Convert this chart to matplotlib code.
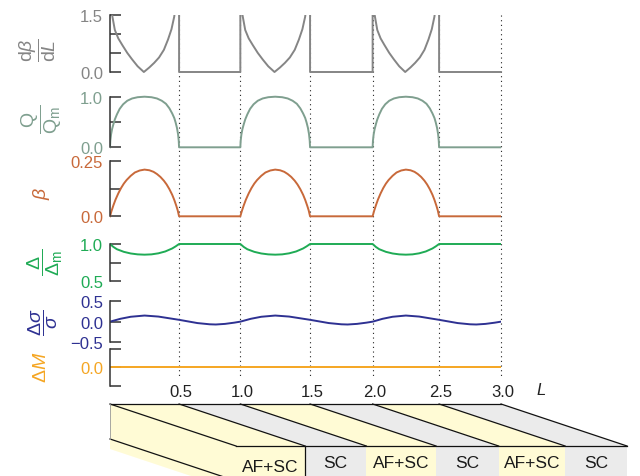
import matplotlib
matplotlib.use("Agg")
import matplotlib.pyplot as plt
import numpy as np
from matplotlib.patches import Polygon

plt.rcParams['font.family'] = ['Liberation Sans', 'DejaVu Sans']
plt.rcParams['mathtext.fontset'] = 'custom'
plt.rcParams['mathtext.rm'] = 'Liberation Sans'
plt.rcParams['mathtext.it'] = 'Liberation Sans:italic'
plt.rcParams['mathtext.bf'] = 'Liberation Sans:bold'

# ---------------- data ----------------
# phase boundaries along L (as drawn)
boundaries = [0.0, 0.53, 1.0, 1.535, 2.015, 2.525, 3.0]
phases = ["AF+SC", "SC", "AF+SC", "SC", "AF+SC", "SC"]
x_tick_labels = ["0.5", "1.0", "1.5", "2.0", "2.5", "3.0"]

# dbeta/dL inside an AF+SC region (fraction of region width -> value); 0 in SC
dbdl_frac = [0.0, 0.03, 0.07, 0.12, 0.18, 0.25, 0.32, 0.40, 0.49, 0.57, 0.64, 0.71, 0.78, 0.84, 0.89, 0.93, 0.96, 1.0]
dbdl_vals = [2.2, 1.5, 1.1, 0.88, 0.70, 0.50, 0.33, 0.15, 0.0, 0.12, 0.24, 0.38, 0.58, 0.85, 1.12, 1.45, 1.9, 2.5]
dbdl_sc = 0.0

# Q/Qm in AF+SC; 0 in SC
q_frac = [0.0, 0.005, 0.015, 0.03, 0.05, 0.07, 0.1, 0.14, 0.19, 0.25, 0.32, 0.4, 0.5, 0.6, 0.68, 0.75, 0.81, 0.86, 0.9, 0.93, 0.95, 0.97, 0.985, 0.995, 1.0]
q_vals = [0.0, 0.13, 0.25, 0.36, 0.46, 0.55, 0.65, 0.76, 0.85, 0.92, 0.965, 0.99, 1.0, 0.99, 0.965, 0.92, 0.86, 0.77, 0.67, 0.58, 0.49, 0.38, 0.26, 0.13, 0.0]
q_sc = 0.0

# beta in AF+SC; 0 in SC
beta_frac = [0.0, 0.02, 0.05, 0.08, 0.12, 0.16, 0.20, 0.24, 0.30, 0.36, 0.43, 0.5, 0.57, 0.63, 0.68, 0.73, 0.78, 0.82, 0.86, 0.9, 0.93, 0.96, 0.98, 1.0]
beta_vals = [0.0, 0.022, 0.05, 0.075, 0.103, 0.127, 0.147, 0.163, 0.182, 0.197, 0.206, 0.21, 0.207, 0.2, 0.19, 0.177, 0.16, 0.143, 0.122, 0.097, 0.074, 0.047, 0.027, 0.0]
beta_sc = 0.0

# Delta/Delta_m in AF+SC; 1 in SC
gap_frac = [0.0, 0.05, 0.1, 0.2, 0.3, 0.4, 0.5, 0.6, 0.7, 0.8, 0.9, 0.95, 1.0]
gap_vals = [1.0, 0.96, 0.93, 0.895, 0.873, 0.861, 0.857, 0.861, 0.875, 0.90, 0.94, 0.968, 1.0]
gap_sc = 1.0

# Delta sigma / sigma, in AF+SC and in SC regions
sig_af_frac = [0.0, 0.15, 0.3, 0.5, 0.7, 0.85, 1.0]
sig_af_vals = [0.0, 0.07, 0.12, 0.15, 0.125, 0.085, 0.045]
sig_sc_frac = [0.15, 0.3, 0.5, 0.6, 0.75, 0.9, 1.0]
sig_sc_vals = [0.005, -0.035, -0.065, -0.07, -0.055, -0.025, 0.0]

# Delta M
dm_vals = [0.0, 0.0]

# ---------------- styling ----------------
c_grey = '#858585'
c_q = '#7f9f8f'
c_beta = '#c8693a'
c_gap = '#1fab55'
c_sig = '#2e3192'
c_m = '#f5a623'
c_yel = '#fffbd5'
c_gry = '#ebebeb'

W, H = 640, 477
X0, X1 = 110, 501
PXL = (X1 - X0) / 3.0

fig = plt.figure(figsize=(6.4, 4.77), dpi=100)


def series(af_frac, af_vals, sc_frac=None, sc_vals=None, sc_const=None):
    xs, ys = [], []
    for i in range(len(boundaries) - 1):
        a, c = boundaries[i], boundaries[i + 1]
        if phases[i] == "AF+SC":
            for f, v in zip(af_frac, af_vals):
                xs.append(a + f * (c - a)); ys.append(v)
        else:
            if sc_frac is None:
                xs += [a, c]; ys += [sc_const, sc_const]
            else:
                for f, v in zip(sc_frac, sc_vals):
                    xs.append(a + f * (c - a)); ys.append(v)
    return np.array(xs), np.array(ys)


def add_panel(lo, hi, ylo_px, yhi_px, pad_lo, pad_hi, color, ticks, labels):
    s = (ylo_px - yhi_px) / (hi - lo)
    bot_px = ylo_px + pad_lo * s
    top_px = yhi_px - pad_hi * s
    ax = fig.add_axes([X0 / W, 1 - bot_px / H, (X1 - X0) / W, (bot_px - top_px) / H])
    ax.set_ylim(lo - pad_lo, hi + pad_hi)
    ax.set_xlim(0, 3)
    for sp in ['top', 'right', 'bottom']:
        ax.spines[sp].set_visible(False)
    ax.spines['left'].set_bounds(lo, hi)
    ax.spines['left'].set_color('#333333')
    ax.spines['left'].set_linewidth(1.1)
    ax.tick_params(axis='x', bottom=False, labelbottom=False)
    ax.tick_params(axis='y', direction='in', length=8, width=1.1, color='#333333',
                   pad=5, labelsize=12, labelcolor=color)
    ax.set_yticks(ticks)
    ax.set_yticklabels(labels)
    ax.patch.set_alpha(0)
    return ax

lw = 1.4
# panel 1
ax1 = add_panel(0, 1.5, 73, 15.7, 0.05, 0.0, c_grey, [0, 0.5, 1.0, 1.5], ["0.0", "", "", "1.5"])
x, y = series(dbdl_frac, dbdl_vals, sc_const=dbdl_sc)
ax1.plot(x, y, color=c_grey, lw=lw)
# panel 2
ax2 = add_panel(0, 1.0, 148.3, 97.7, 0.04, 0.04, c_q, [0, 0.5, 1.0], ["0.0", "", "1.0"])
x, y = series(q_frac, q_vals, sc_const=q_sc)
ax2.plot(x, y, color=c_q, lw=lw)
# panel 3
ax3 = add_panel(0, 0.25, 217.3, 161.7, 0.012, 0.01, c_beta, [0, 0.125, 0.25], ["0.0", "", "0.25"])
x, y = series(beta_frac, beta_vals, sc_const=beta_sc)
ax3.plot(x, y, color=c_beta, lw=lw)
# panel 4
ax4 = add_panel(0.5, 1.0, 282.3, 245, 0.02, 0.03, c_gap, [0.5, 0.75, 1.0], ["0.5", "", "1.0"])
x, y = series(gap_frac, gap_vals, sc_const=gap_sc)
ax4.plot(x, y, color=c_gap, lw=lw)
# panel 5
ax5 = add_panel(-0.5, 0.5, 343, 302.3, 0.03, 0.03, c_sig, [-0.5, 0, 0.5], ["\u22120.5", "0.0", "0.5"])
x, y = series(sig_af_frac, sig_af_vals, sig_sc_frac, sig_sc_vals)
ax5.plot(x, y, color=c_sig, lw=lw)
# panel 6
ax6 = add_panel(-1, 1, 386.5, 350, 0.05, 0.05, c_m, [-1, 0, 1], ["", "0.0", ""])
ax6.plot([boundaries[0], boundaries[-1]], dm_vals, color=c_m, lw=lw)

# y labels
ylabels = [
    (r'$\dfrac{\mathrm{d}\beta}{\mathrm{d}L}$', 38, 50, c_grey),
    (r'$\dfrac{\mathrm{Q}}{\mathrm{Q}_\mathrm{m}}$', 42, 119, c_q),
    (r'$\beta$', 41, 193, c_beta),
    (r'$\dfrac{\Delta}{\Delta_\mathrm{m}}$', 45, 262, c_gap),
    (r'$\dfrac{\mathit{\Delta}\sigma}{\sigma}$', 43, 322, c_sig),
    (r'$\mathit{\Delta}M$', 42, 367, c_m),
]
for txt, px, py, col in ylabels:
    fig.text(px / W, 1 - py / H, txt, rotation=90, ha='center', va='center',
             color=col, fontsize=14)

# overlay axes in (L, pixel-y) coordinates
ov = fig.add_axes([X0 / W, 0, (X1 - X0) / W, 1], zorder=-1)
ov.set_xlim(0, 3)
ov.set_ylim(H, 0)
ov.axis('off')
ov.patch.set_alpha(0)

# dotted guide lines
ov.vlines(boundaries[1:], 15.5, 380, colors='#222222', linestyles=(0, (1, 3.2)),
          linewidth=0.8, clip_on=False)

# x tick labels
for b, lab in zip(boundaries[1:], x_tick_labels):
    ov.text(b + 2 / PXL, 393, lab, ha='center', va='center', fontsize=12, color='#222222', clip_on=False)
ov.text((541 - X0) / PXL, 391, 'L', ha='center', va='center', fontsize=12,
        style='italic', color='#222222', clip_on=False)

# slab
dx = 126 / PXL
yb, yf, ylow = 405, 447, 490
ec = '#111111'
slw = 0.9
b0 = boundaries[0]
ov.add_patch(Polygon([(b0, yb), (b0 + dx, yf), (b0 + dx, yf + 45), (b0, 450)],
                     closed=True, facecolor=c_yel, edgecolor='none', clip_on=False))
for i in range(len(boundaries) - 1):
    a, c = boundaries[i], boundaries[i + 1]
    col = c_yel if phases[i] == "AF+SC" else c_gry
    ov.add_patch(Polygon([(a, yb), (c, yb), (c + dx, yf), (a + dx, yf)], closed=True,
                         facecolor=col, edgecolor='none', clip_on=False))
    ov.add_patch(Polygon([(a + dx, yf), (c + dx, yf), (c + dx, ylow), (a + dx, ylow)], closed=True,
                         facecolor=col, edgecolor='none', clip_on=False))
    ty = 468 if i == 0 else 464
    ov.text((a + c) / 2 + dx, ty, phases[i], ha='center', va='center', fontsize=12.5,
            color='#1a1a1a', clip_on=False)
# outlines
ov.plot([boundaries[0], boundaries[-1]], [yb, yb], color=ec, lw=slw, clip_on=False)
ov.plot([boundaries[0] + dx, boundaries[-1] + dx], [yf, yf], color=ec, lw=slw, clip_on=False)
for b in boundaries:
    ov.plot([b, b + dx], [yb, yf], color=ec, lw=slw, clip_on=False)
ov.plot([b0, b0 + dx], [440, 440 + 42], color=ec, lw=slw, clip_on=False)
ov.plot([b0, b0], [yb, 440], color='#999999', lw=0.6, clip_on=False)
ov.plot([boundaries[1] + dx, boundaries[1] + dx], [yf, ylow], color=ec, lw=slw, clip_on=False)

fig.savefig('out.png', dpi=100)
